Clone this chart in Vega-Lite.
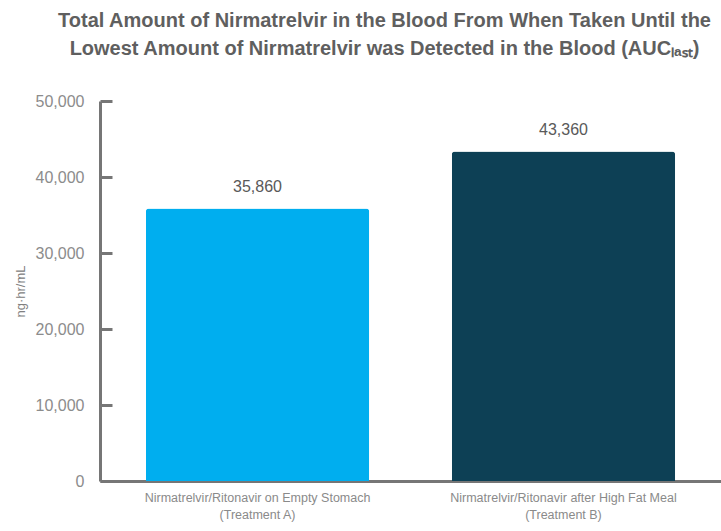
{
  "$schema": "https://vega.github.io/schema/vega-lite/v6.json",
  "autosize": {"type": "none"},
  "width": 621,
  "height": 380,
  "padding": {"left": 100, "top": 101, "right": 0, "bottom": 50},
  "background": "white",
  "title": {
    "text": ["Total Amount of Nirmatrelvir in the Blood From When Taken Until the", "Lowest Amount of Nirmatrelvir was Detected in the Blood (AUCₗₐₛₜ)"],
    "font": "Liberation Sans",
    "fontSize": 20,
    "fontWeight": "bold",
    "color": "#5f5f5f",
    "anchor": "middle",
    "frame": "group",
    "dx": -26,
    "lineHeight": 28,
    "offset": 34
  },
  "data": {
    "values": [
      {"treatment": "Nirmatrelvir/Ritonavir on Empty Stomach (Treatment A)", "auc": 35860},
      {"treatment": "Nirmatrelvir/Ritonavir after High Fat Meal (Treatment B)", "auc": 43360}
    ]
  },
  "encoding": {
    "x": {
      "field": "treatment",
      "type": "nominal",
      "sort": null,
      "scale": {"paddingInner": 0.27, "paddingOuter": 0.15},
      "axis": {
        "title": null,
        "labelAngle": 0,
        "labelLimit": 0,
        "labelExpr": "[slice(datum.label,0,indexof(datum.label,' (')), slice(datum.label,indexof(datum.label,' (')+1)]",
        "labelFont": "Liberation Sans",
        "labelFontSize": 12.5,
        "labelColor": "#8a8a8a",
        "labelLineHeight": 17,
        "labelPadding": 10,
        "ticks": false,
        "domainColor": "#767676",
        "domainWidth": 3
      }
    },
    "y": {
      "field": "auc",
      "type": "quantitative",
      "scale": {"domain": [0, 50000]},
      "axis": {
        "title": "ng·hr/mL",
        "titleFont": "Liberation Sans",
        "titleFontSize": 13,
        "titleFontWeight": "normal",
        "titleColor": "#808080",
        "titlePadding": 8,
        "values": [0, 10000, 20000, 30000, 40000, 50000],
        "format": ",.0f",
        "labelFont": "Liberation Sans",
        "labelFontSize": 16,
        "labelColor": "#8c8c8c",
        "labelPadding": 28,
        "grid": false,
        "tickSize": -12,
        "tickWidth": 3,
        "tickColor": "#767676",
        "domainColor": "#767676",
        "domainWidth": 3
      }
    }
  },
  "layer": [
    {
      "mark": {"type": "bar", "cornerRadiusTopLeft": 3, "cornerRadiusTopRight": 3},
      "encoding": {
        "color": {
          "field": "treatment",
          "type": "nominal",
          "scale": {
            "domain": ["Nirmatrelvir/Ritonavir on Empty Stomach (Treatment A)", "Nirmatrelvir/Ritonavir after High Fat Meal (Treatment B)"],
            "range": ["#00aeef", "#0d4055"]
          },
          "legend": null
        }
      }
    },
    {
      "mark": {"type": "text", "baseline": "alphabetic", "dy": -16, "font": "Liberation Sans", "fontSize": 16, "color": "#595959"},
      "encoding": {
        "text": {"field": "auc", "type": "quantitative", "format": ","}
      }
    }
  ],
  "config": {"view": {"stroke": null}}
}
